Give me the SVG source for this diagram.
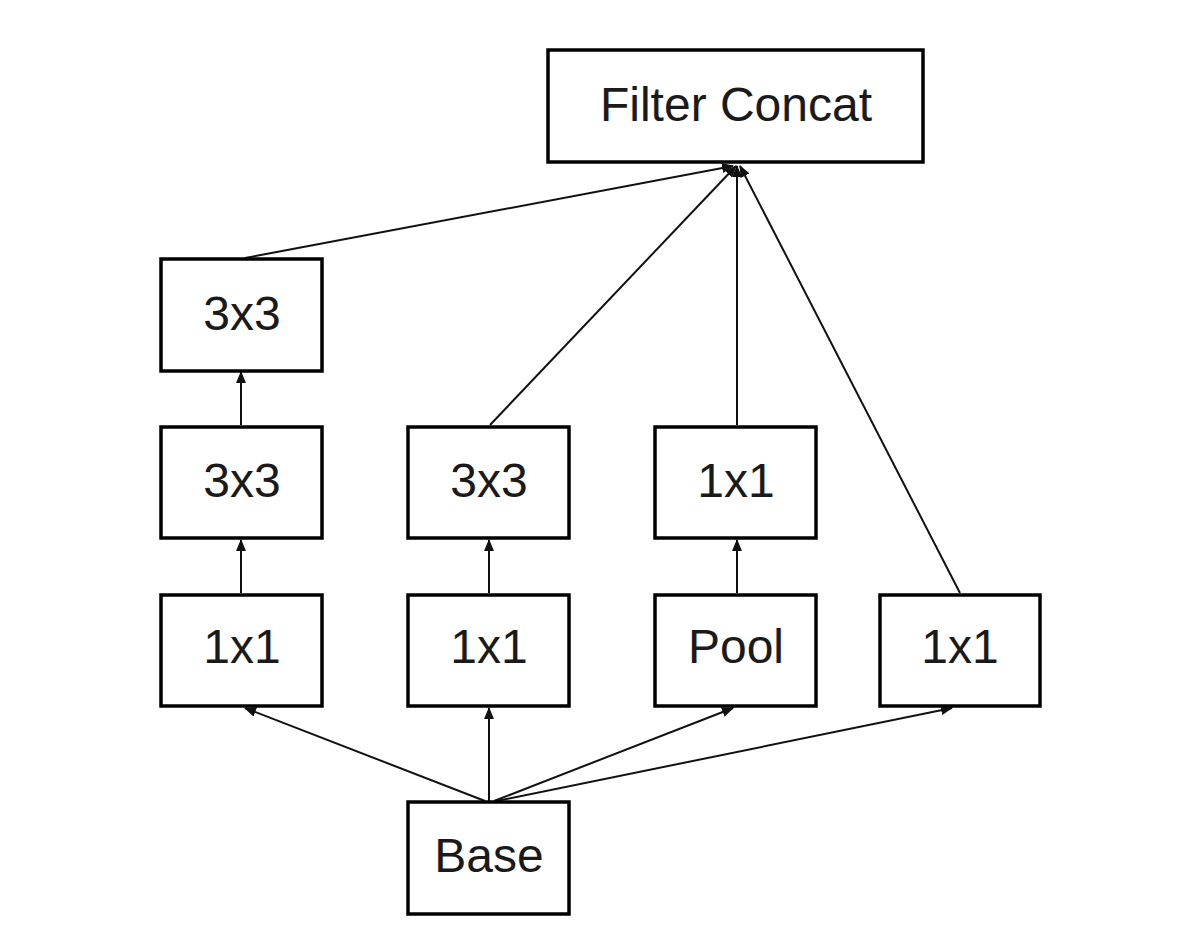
<svg xmlns="http://www.w3.org/2000/svg" width="1194" height="940" viewBox="0 0 1194 940">
<style>
.box{fill:#fff;stroke:#000;stroke-width:3.5}
.lbl{font-family:"Liberation Sans",Arial,sans-serif;font-size:48px;fill:#1a1a1a;text-anchor:middle}
.c line{stroke:#111;stroke-width:2;marker-end:url(#ah)}
</style>
<defs>
<marker id="ah" markerWidth="12" markerHeight="10" refX="11" refY="5" orient="auto" markerUnits="userSpaceOnUse">
<path d="M0,0 L12,5 L0,10 Z" fill="#111"/>
</marker>
</defs>
<rect width="1194" height="940" fill="#fff"/>
<g class="c" id="connectors">
<line x1="245" y1="258" x2="733" y2="166"/>
<line x1="490" y1="425" x2="736" y2="166"/>
<line x1="737" y1="425" x2="737" y2="166"/>
<line x1="960" y1="593" x2="740" y2="166"/>
<line x1="241" y1="425" x2="241" y2="372"/>
<line x1="241" y1="593" x2="241" y2="540"/>
<line x1="489" y1="593" x2="489" y2="540"/>
<line x1="737" y1="593" x2="737" y2="540"/>
<line x1="485" y1="801" x2="245" y2="708"/>
<line x1="489" y1="801" x2="489" y2="708"/>
<line x1="494" y1="801" x2="733" y2="708"/>
<line x1="497" y1="801" x2="952" y2="708"/>
</g>
<g id="concat"><rect class="box" x="548" y="50" width="375" height="112"/><text class="lbl" x="736" y="121">Filter Concat</text></g>
<g id="c1r1"><rect class="box" x="161" y="259" width="161" height="112"/><text class="lbl" x="242" y="330">3x3</text></g>
<g id="c1r2"><rect class="box" x="161" y="427" width="161" height="111"/><text class="lbl" x="242" y="497">3x3</text></g>
<g id="c1r3"><rect class="box" x="161" y="595" width="161" height="111"/><text class="lbl" x="242" y="663">1x1</text></g>
<g id="c2r2"><rect class="box" x="408" y="427" width="161" height="111"/><text class="lbl" x="489" y="497">3x3</text></g>
<g id="c2r3"><rect class="box" x="408" y="595" width="161" height="111"/><text class="lbl" x="489" y="663">1x1</text></g>
<g id="c3r2"><rect class="box" x="655" y="427" width="161" height="111"/><text class="lbl" x="736" y="497">1x1</text></g>
<g id="c3r3"><rect class="box" x="655" y="595" width="161" height="111"/><text class="lbl" x="736" y="663">Pool</text></g>
<g id="c4r3"><rect class="box" x="880" y="595" width="160" height="111"/><text class="lbl" x="960" y="663">1x1</text></g>
<g id="base"><rect class="box" x="408" y="802" width="161" height="112"/><text class="lbl" x="489" y="872">Base</text></g>
</svg>
